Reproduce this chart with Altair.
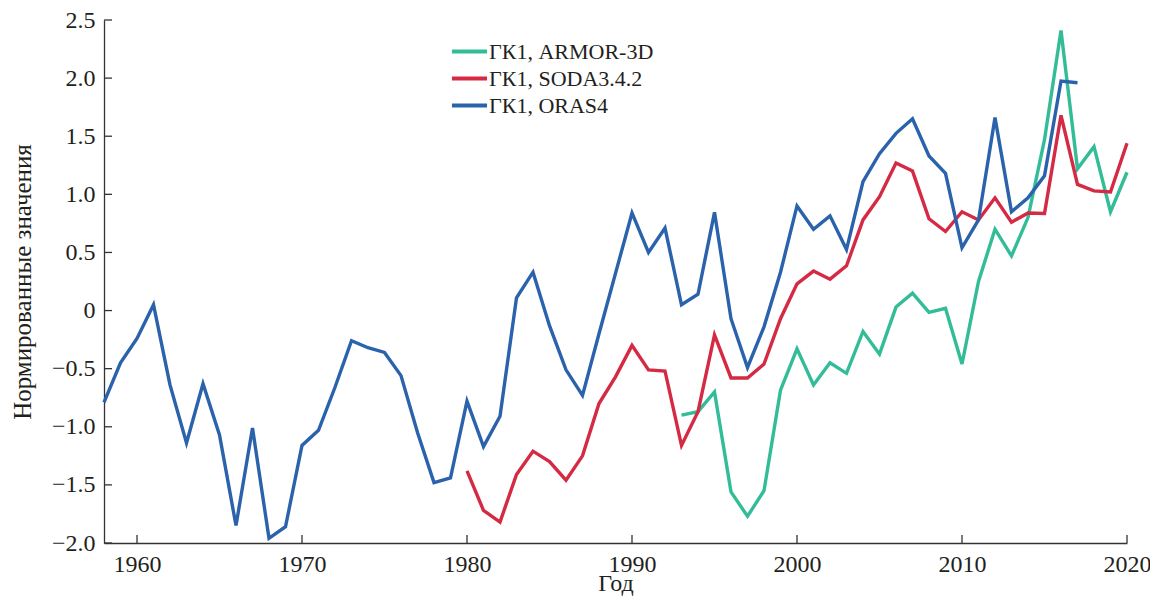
import altair as alt
import pandas as pd

series_names = ["ГК1, ARMOR-3D", "ГК1, SODA3.4.2", "ГК1, ORAS4"]
series_colors = ["#33bc98", "#d42a43", "#2a62ab"]

years_oras = list(range(1958, 2018))
oras = [-0.79, -0.45, -0.24, 0.05, -0.64, -1.14, -0.63, -1.07, -1.85, -1.01,
        -1.96, -1.86, -1.16, -1.03, -0.66, -0.26, -0.32, -0.36, -0.56, -1.05,
        -1.48, -1.44, -0.78, -1.17, -0.91, 0.11, 0.33, -0.13, -0.51, -0.73,
        -0.20, 0.32, 0.84, 0.50, 0.71, 0.05, 0.14, 0.845, -0.07, -0.49,
        -0.14, 0.33, 0.90, 0.70, 0.815, 0.525, 1.11, 1.35, 1.525, 1.65,
        1.33, 1.18, 0.54, 0.78, 1.66, 0.85, 0.97, 1.16, 1.975, 1.96]

years_soda = list(range(1980, 2021))
soda = [-1.38, -1.72, -1.82, -1.41, -1.21, -1.30, -1.46, -1.25, -0.80, -0.57,
        -0.30, -0.51, -0.52, -1.16, -0.87, -0.21, -0.58, -0.58, -0.46, -0.07,
        0.23, 0.34, 0.27, 0.385, 0.78, 0.98, 1.27, 1.20, 0.79, 0.68,
        0.85, 0.78, 0.97, 0.76, 0.84, 0.835, 1.68, 1.085, 1.03, 1.02,
        1.44]

years_armor = list(range(1993, 2021))
armor = [-0.90, -0.87, -0.70, -1.56, -1.77, -1.55, -0.685,
         -0.33, -0.64, -0.45, -0.54, -0.18, -0.375, 0.03, 0.15, -0.015, 0.02,
         -0.46, 0.25, 0.70, 0.47, 0.80, 1.47, 2.41, 1.22, 1.41, 0.85,
         1.19]

x_ticks = [1960, 1970, 1980, 1990, 2000, 2010, 2020]
y_ticks = [-2.0, -1.5, -1.0, -0.5, 0.0, 0.5, 1.0, 1.5, 2.0, 2.5]

rows = []
for name, yrs, vals in [(series_names[0], years_armor, armor),
                        (series_names[1], years_soda, soda),
                        (series_names[2], years_oras, oras)]:
    for yr, v in zip(yrs, vals):
        rows.append({"series": name, "year": yr, "value": v})
df = pd.DataFrame(rows)

FONT = "Liberation Serif"
TXT = "#231f20"
W, H = 1023, 523

xscale = alt.Scale(domain=[1958, 2020], nice=False, zero=False)
yscale = alt.Scale(domain=[-2.0, 2.5], nice=False, zero=False)

lines = alt.Chart(df).mark_line(strokeWidth=3.4).encode(
    x=alt.X("year:Q", scale=xscale,
            axis=alt.Axis(values=x_ticks, format="d", title="Год",
                          labelPadding=9, labelFlush=False,
                          titleY=47, titleBaseline="alphabetic")),
    y=alt.Y("value:Q", scale=yscale,
            axis=alt.Axis(values=y_ticks, title="Нормированные значения",
                          labelPadding=9, titlePadding=16,
                          labelExpr="datum.value == 0 ? '0' : replace(format(datum.value, '.1f'), '-', '\u2212')")),
    color=alt.Color("series:N",
                    scale=alt.Scale(domain=series_names, range=series_colors),
                    sort=series_names,
                    legend=alt.Legend(title=None, orient="none", legendX=350, legendY=16,
                                      symbolType="M-1.3,0H1.3", symbolSize=729,
                                      symbolStrokeWidth=4, symbolFillColor="transparent",
                                      labelFont=FONT,
                                      labelFontSize=22, labelColor=TXT, labelLimit=500,
                                      labelOffset=4, rowPadding=0)),
    detail="series:N",
)

xt = alt.Chart(pd.DataFrame({"t": x_ticks})).mark_rule(color="#333333", strokeWidth=1.3).encode(
    x=alt.X("t:Q", scale=xscale),
    y=alt.value(H), y2=alt.value(H - 8),
)
yt = alt.Chart(pd.DataFrame({"t": y_ticks})).mark_rule(color="#333333", strokeWidth=1.3).encode(
    y=alt.Y("t:Q", scale=yscale),
    x=alt.value(0), x2=alt.value(8),
)

chart = alt.layer(lines, xt, yt).properties(
    width=W, height=H,
    autosize=alt.AutoSizeParams(type="none"),
    padding={"left": 96, "top": 12, "right": 23, "bottom": 54},
).configure_view(stroke=None).configure_axis(
    ticks=False, grid=False, domainColor="#333333", domainWidth=1.3,
    labelFont=FONT, labelFontSize=24, labelColor=TXT,
    titleFont=FONT, titleFontSize=24, titleColor=TXT, titleFontWeight="normal",
).configure_axisY(titleFontSize=25)

chart.save("out.html", embed_options={"renderer": "svg", "actions": False})
